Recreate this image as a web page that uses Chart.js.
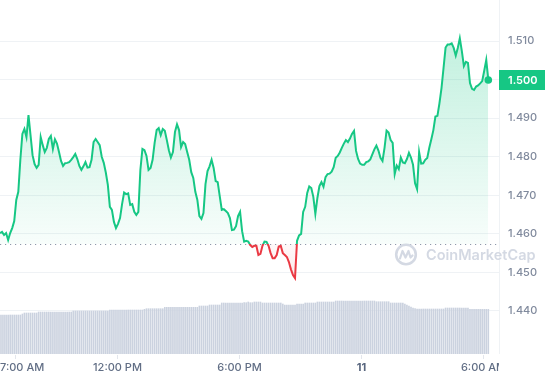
<!DOCTYPE html>
<html><head><meta charset="utf-8">
<script src="https://cdn.jsdelivr.net/npm/chart.js@4.4.1/dist/chart.umd.min.js"></script>
<style>html,body{margin:0;padding:0;background:#fff;overflow:hidden}</style>
</head><body>
<canvas id="c" width="545" height="380"></canvas>
<script>
// ---- data ----
const startHour = 6.25;      // first sample: 6:15 AM
const stepHours = 0.1;       // one sample every 6 minutes
const prices = [
1.4602,1.4605,1.4597,1.4602,1.4584,1.4602,1.4615,1.4633,1.4688,1.4709,
1.4792,1.4859,1.4872,1.4851,1.4908,1.4856,1.4804,1.4781,1.4771,1.4779,
1.4851,1.4830,1.4812,1.4823,1.4846,1.4854,1.4820,1.4845,1.4834,1.4812,
1.4789,1.4776,1.4783,1.4784,1.4786,1.4792,1.4799,1.4807,1.4794,1.4776,
1.4766,1.4775,1.4786,1.4772,1.4773,1.4792,1.4838,1.4846,1.4838,1.4830,
1.4800,1.4784,1.4759,1.4727,1.4670,1.4662,1.4631,1.4615,1.4626,1.4641,
1.4677,1.4707,1.4703,1.4705,1.4675,1.4677,1.4657,1.4649,1.4657,1.4766,
1.4820,1.4817,1.4802,1.4766,1.4771,1.4792,1.4836,1.4869,1.4874,1.4856,
1.4872,1.4867,1.4843,1.4817,1.4798,1.4812,1.4864,1.4884,1.4869,1.4825,
1.4838,1.4833,1.4812,1.4792,1.4760,1.4745,1.4709,1.4688,1.4646,1.4639,
1.4654,1.4729,1.4763,1.4775,1.4792,1.4771,1.4737,1.4734,1.4698,1.4662,
1.4664,1.4659,1.4654,1.4641,1.4610,1.4611,1.4620,1.4646,1.4657,1.4607,
1.4580,1.4582,1.4580,1.4571,1.4566,1.4569,1.4569,1.4545,1.4548,1.4569,
1.4580,1.4579,1.4569,1.4550,1.4537,1.4537,1.4545,1.4567,1.4569,1.4550,
1.4545,1.4540,1.4527,1.4508,1.4493,1.4485,1.4582,1.4596,1.4600,1.4657,
1.4670,1.4706,1.4723,1.4719,1.4696,1.4652,1.4693,1.4724,1.4734,1.4722,
1.4747,1.4755,1.4756,1.4761,1.4773,1.4797,1.4802,1.4811,1.4823,1.4834,
1.4843,1.4838,1.4847,1.4859,1.4867,1.4815,1.4794,1.4782,1.4779,1.4779,
1.4786,1.4788,1.4793,1.4806,1.4819,1.4829,1.4816,1.4797,1.4789,1.4823,
1.4868,1.4863,1.4843,1.4836,1.4755,1.4777,1.4768,1.4798,1.4785,1.4783,
1.4794,1.4810,1.4798,1.4779,1.4731,1.4716,1.4812,1.4782,1.4783,1.4792,
1.4797,1.4823,1.4845,1.4869,1.4904,1.4906,1.4939,1.4978,1.5030,1.5083,
1.5091,1.5091,1.5094,1.5082,1.5062,1.5082,1.5107,1.5074,1.5035,1.5046,
1.5043,1.4991,1.4976,1.4973,1.4982,1.4985,1.4990,1.4996,1.5023,1.5051,
1.4999
];
// volume in millions, same 6-minute steps
const volumes = [
39,39,39,39,39,39,39,39,39,39,
39,40,41,41,41,41,41,41,41,42,
42,42,42,42,42,42,42,42,42,42,
42,42,42,42,42,42,43,43,43,43,
43,43,43,43,43,43,43,43,43,43,
43,43,43,43,44,44,44,44,44,44,
44,44,44,44,44,44,44,44,44,44,
44,44.7,45.3,45.3,45.3,45.3,45.3,45.3,45.3,45.3,
45.3,46.7,46.7,46.7,46.7,46.7,46.7,46.7,46.7,46.7,
46.7,46.7,46.7,46.7,46.7,46.7,46.7,46.7,48,48,
48,48,48,49,49,49,49,49,49,51,
51,51,51,51,51,51,51,51,51,51,
51.3,51.3,52,51.3,51.3,52,52,52,52,51,
51,51,51,51,51,51,51,51,51,50,
49,49,49,49,49,49,50,50,50,50,
51,51,51,51,51,51,52,52,52,52,
52,52,52,52,52,53,53,53,53,53,
53,53,53,53,53,53,53,53,53,53,
53,53,53,53,53,52.3,52.3,52.3,52.3,52.3,
52.3,52.3,51,51,51,51,51,51,51,50,
49,48,47,46,45.5,45,45,45,45,45,
45,45,45,45,45,45,45,45,45,46,
46,46,46,46,46,46,46,46,46,46,
46,44.7,44.7,44.7,44.7,44.7,44.7,44.7,44.7,44.7,
44.7
];
const baselinePrice = 1.4574;
const yTickValues = [1.44, 1.45, 1.46, 1.47, 1.48, 1.49, 1.50, 1.51];
const xTickHours = [7, 12, 18, 24, 30];
const xTickLabels = ['7:00 AM', '12:00 PM', '6:00 PM', '11', '6:00 AM'];

// ---- styles / layout ----
const GREEN = '#16c784', RED = '#ea3943';
const FONT = 'Inter, "Noto Sans", sans-serif';
const yMin = 1.42885, yMax = 1.52063;
const xMin = startHour, xMax = startHour + 24.526;

const priceData = prices.map((p, i) => ({x: startHour + i * stepHours, y: p}));
const volData = volumes.map((v, i) => ({x: startHour + i * stepHours, y: v}));
const lastIdx = prices.length - 1;

const decor = {
  id: 'decor',
  beforeDatasetsDraw(chart) {
    const {ctx, chartArea: a, scales} = chart;
    ctx.save();
    ctx.strokeStyle = '#eff2f5'; ctx.lineWidth = 1;
    ctx.beginPath(); ctx.moveTo(a.right + 0.5, 0); ctx.lineTo(a.right + 0.5, a.bottom); ctx.stroke();
    const yb = Math.round(scales.y.getPixelForValue(baselinePrice)) + 0.5;
    ctx.strokeStyle = '#8f98aa'; ctx.setLineDash([1.2, 3.8]);
    ctx.beginPath(); ctx.moveTo(a.left, yb); ctx.lineTo(a.right, yb); ctx.stroke();
    ctx.setLineDash([]);
    ctx.strokeStyle = '#d4d9e3'; ctx.fillStyle = '#d4d9e3';
    const cx = 406, cy = 254.5;
    ctx.lineWidth = 2.6;
    ctx.beginPath(); ctx.arc(cx, cy, 9.8, 0, Math.PI * 2); ctx.stroke();
    ctx.lineWidth = 2.2; ctx.lineJoin = 'round'; ctx.lineCap = 'round';
    ctx.beginPath();
    ctx.moveTo(cx - 6, cy + 4);
    ctx.lineTo(cx - 3.5, cy - 3.5);
    ctx.lineTo(cx - 0.5, cy + 3);
    ctx.lineTo(cx + 2.5, cy - 3.5);
    ctx.lineTo(cx + 4.5, cy + 3);
    ctx.lineTo(cx + 6.5, cy + 1);
    ctx.stroke();
    ctx.font = '600 14.5px ' + FONT;
    ctx.textBaseline = 'middle'; ctx.textAlign = 'left';
    ctx.fillText('CoinMarketCap', 426, cy + 1);
    ctx.restore();
  },
  afterDraw(chart) {
    const {ctx, chartArea: a, scales} = chart;
    ctx.save();
    ctx.beginPath(); ctx.rect(0, a.bottom, a.right, chart.height - a.bottom); ctx.clip();
    ctx.strokeStyle = '#e3e6ec'; ctx.lineWidth = 1;
    ctx.textBaseline = 'middle';
    xTickHours.forEach((h, i) => {
      const px = Math.round(scales.x.getPixelForValue(h)) + 0.5;
      ctx.beginPath(); ctx.moveTo(px, a.bottom + 1); ctx.lineTo(px, a.bottom + 5); ctx.stroke();
      const lbl = xTickLabels[i];
      const isDay = lbl === '11';
      ctx.font = (isDay ? '700 ' : '500 ') + '11px ' + FONT;
      ctx.fillStyle = isDay ? '#58667e' : '#616e85';
      const w = ctx.measureText(lbl).width;
      let left = px - w / 2;
      if (left < 0) left = 0;
      ctx.textAlign = 'left';
      ctx.fillText(lbl, left, a.bottom + 14);
    });
    ctx.restore();
    ctx.save();
    const lp = prices[lastIdx];
    const py = scales.y.getPixelForValue(lp);
    ctx.fillStyle = GREEN;
    ctx.fillRect(a.right, Math.round(py) - 10, chart.width - a.right, 20);
    ctx.fillStyle = '#ffffff';
    ctx.font = '600 11px ' + FONT;
    ctx.textAlign = 'left'; ctx.textBaseline = 'middle';
    ctx.fillText(lp.toFixed(3), a.right + 9, Math.round(py) + 0.5);
    ctx.restore();
  }
};

const chart = new Chart(document.getElementById('c'), {
  data: {
    datasets: [
      {
        type: 'line', data: priceData, yAxisID: 'y', xAxisID: 'x',
        borderColor: GREEN, borderWidth: 2, tension: 0,
        pointRadius: c => c.dataIndex === lastIdx ? 3.8 : 0,
        pointHoverRadius: 0,
        pointBackgroundColor: GREEN, pointBorderColor: GREEN, pointBorderWidth: 0,
        fill: false, order: 1
      },
      {
        type: 'bar', data: volData, yAxisID: 'yVol', xAxisID: 'x',
        backgroundColor: '#cbd2df', barThickness: 1, order: 2
      }
    ]
  },
  options: {
    responsive: false, animation: false, devicePixelRatio: 1,
    layout: {autoPadding: false, padding: {left: 0, top: 0, right: 0, bottom: 26}},
    plugins: {legend: {display: false}, tooltip: {enabled: false}},
    events: [],
    scales: {
      x: {type: 'linear', min: xMin, max: xMax, display: false, offset: false},
      y: {
        type: 'linear', position: 'right', min: yMin, max: yMax,
        afterBuildTicks: s => { s.ticks = yTickValues.map(v => ({value: v})); },
        afterFit: s => { s.width = 46; s.paddingTop = 0; s.paddingBottom = 0; },
        ticks: {
          callback: v => Number(v).toFixed(3),
          padding: 9, color: '#808a9d',
          font: {family: FONT, size: 11, weight: '500'}
        },
        grid: {color: '#eff2f5', drawTicks: false, lineWidth: 1},
        border: {display: false}
      },
      yVol: {type: 'linear', min: 0, max: 354, display: false}
    }
  },
  plugins: [decor]
});

(function applyGradients() {
  const {ctx, chartArea: a, scales} = chart;
  const ds = chart.data.datasets[0];
  const yb = scales.y.getPixelForValue(baselinePrice);
  const yTop = scales.y.getPixelForValue(1.51);
  const yLow = scales.y.getPixelForValue(1.448);
  const above = ctx.createLinearGradient(0, yTop, 0, yb);
  above.addColorStop(0, 'rgba(22,199,132,0.26)');
  above.addColorStop(1, 'rgba(22,199,132,0.03)');
  const below = ctx.createLinearGradient(0, yb, 0, yLow);
  below.addColorStop(0, 'rgba(234,57,67,0.03)');
  below.addColorStop(1, 'rgba(234,57,67,0.12)');
  const stroke = ctx.createLinearGradient(0, a.top, 0, a.bottom);
  const f = (yb - a.top) / (a.bottom - a.top);
  stroke.addColorStop(0, GREEN); stroke.addColorStop(f, GREEN);
  stroke.addColorStop(f, RED); stroke.addColorStop(1, RED);
  ds.borderColor = stroke;
  ds.fill = {target: {value: baselinePrice}, above: above, below: below};
  chart.update('none');
})();
</script>
</body></html>
